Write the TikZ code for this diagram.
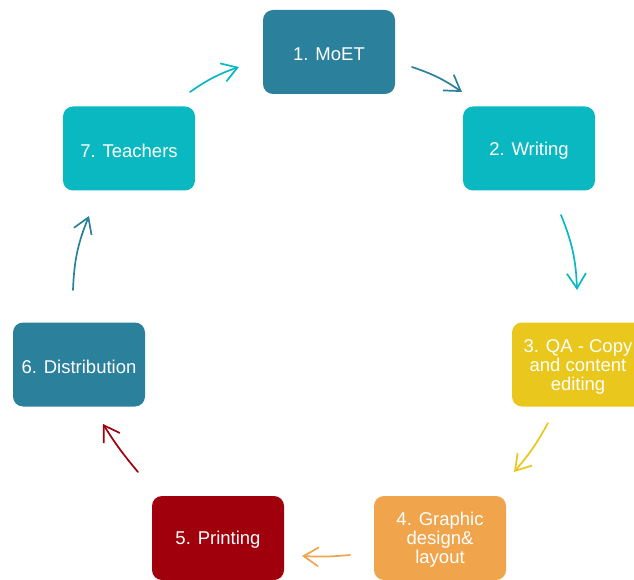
\documentclass[tikz,border=0pt]{standalone}
\usepackage{fontspec}
\setmainfont{Liberation Sans}
\usetikzlibrary{arrows.meta}

\definecolor{moetteal}{RGB}{43,128,156}
\definecolor{writecyan}{RGB}{10,184,194}
\definecolor{qayellow}{RGB}{233,199,28}
\definecolor{layoutorange}{RGB}{240,164,76}
\definecolor{printred}{RGB}{160,0,12}

\begin{document}
\begin{tikzpicture}[x=1pt,y=1pt,line cap=round,line join=round,
    stagebox/.style={rectangle,rounded corners=10pt,minimum width=132pt,
        minimum height=84pt,inner sep=0pt,align=center,text=white,
        font=\fontsize{18.5}{19}\selectfont},
    flowarrow/.style={line width=1.7pt,
        -{Straight Barb[length=15pt,width=19pt,line width=1.7pt]}}]
        \useasboundingbox (0,0) rectangle (634,579);
        \clip (0,0) rectangle (634,579);

        % Etapas del ciclo
        \node[stagebox,fill=moetteal]     (moet)    at (329,527)   {\rule{0pt}{17.5pt}1. MoET};
        \node[stagebox,fill=writecyan]    (writing) at (529,430.5) {\rule{0pt}{17.5pt}2. Writing};
        \node[stagebox,fill=qayellow]     (qa)      at (578,214.5) {\rule{0pt}{17.5pt}3. QA - Copy\\and content\\editing};
        \node[stagebox,fill=layoutorange] (layout)  at (440,41)    {\rule{0pt}{17.5pt}4. Graphic\\design\&\\layout};
        \node[stagebox,fill=printred]     (print)   at (218,41)    {\rule{0pt}{17.5pt}5. Printing};
        \node[stagebox,fill=moetteal]     (distrib) at (79,214.5)  {\rule{0pt}{17.5pt}6. Distribution};
        \node[stagebox,fill=writecyan]    (teach)   at (129,430.5) {\rule{0pt}{17.5pt}7. Teachers};

        % Extremos de las flechas
        \coordinate (t1s) at (190,487);  \coordinate (t1e) at (239,512);
        \coordinate (m2s) at (412,512);  \coordinate (m2e) at (462,487);
        \coordinate (w3s) at (561,364);  \coordinate (w3e) at (577,289);
        \coordinate (q4s) at (548,156);  \coordinate (q4e) at (514,107);
        \coordinate (l5s) at (350,24);   \coordinate (l5e) at (302,23);
        \coordinate (p6s) at (138,107);  \coordinate (p6e) at (103,155);
        \coordinate (d7s) at (73,289);   \coordinate (d7e) at (89,363);

        % Flechas
        \draw[flowarrow,writecyan]    (t1s) to[bend left=8]  (t1e);
        \draw[flowarrow,moetteal]     (m2s) to[bend left=8]  (m2e);
        \draw[flowarrow,writecyan]    (w3s) to[bend left=10] (w3e);
        \draw[flowarrow,qayellow]     (q4s) to[bend left=6]  (q4e);
        \draw[flowarrow,layoutorange] (l5s) to[bend left=4]  (l5e);
        \draw[flowarrow,printred]     (p6s) to[bend left=4]  (p6e);
        \draw[flowarrow,moetteal]     (d7s) to[bend left=10] (d7e);
    \end{tikzpicture}
\end{document}
